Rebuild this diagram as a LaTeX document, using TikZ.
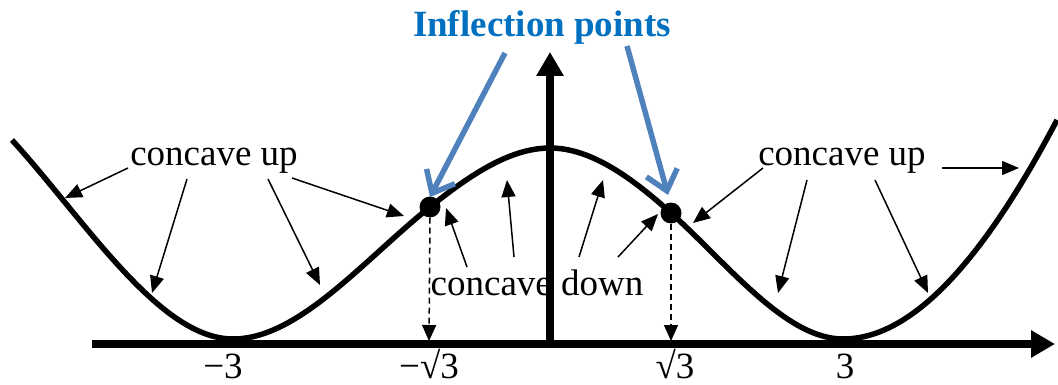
\documentclass[tikz,border=0pt]{standalone}
\usepackage{fontspec}
\setmainfont{Liberation Serif}
\usetikzlibrary{arrows.meta}
\definecolor{ipblue}{RGB}{0,112,192}
\definecolor{arrblue}{RGB}{79,129,189}
\tikzset{
  lbl/.style={font=\fontsize{37}{40}\selectfont, inner sep=0pt, anchor=base},
  thinarr/.style={line width=1.5pt, -{Triangle[length=17pt,width=14pt]}},
  dasharr/.style={line width=1.5pt, dashed, dash pattern=on 6pt off 4pt, -{Triangle[length=16pt,width=14pt]}},
  bluearr/.style={draw=arrblue, line width=5.5pt, -{Straight Barb[length=19pt,width=32pt]}},
  axis/.style={line width=7.5pt, -{Triangle[length=24pt,width=26pt]}},
  dot/.style={circle, fill=black, inner sep=0pt, minimum size=21pt},
}
\begin{document}
\begin{tikzpicture}[x=1pt,y=-1pt]
\useasboundingbox (0,0) rectangle (1058,385);
% axes
\coordinate (xs) at (92,344);
\coordinate (xe) at (1055,344);
\coordinate (ys) at (550,344);
\coordinate (ye) at (550,52);
\draw[axis] (xs) -- (xe);
\draw[axis] (ys) -- (ye);
% curve
\coordinate (k0) at (12,140);
\coordinate (k1) at (233,339);
\coordinate (k2) at (430,207);
\coordinate (k3) at (550,148);
\coordinate (k4) at (671,213);
\coordinate (k5) at (843,339);
\coordinate (k6) at (1057,120);
\draw[line width=5.5pt]
 (k0) .. controls (85.7,221) and (159.3,339) .. (k1)
      .. controls (298.7,339) and (364.3,259.5) .. (k2)
      .. controls (470,175) and (510,148) .. (k3)
      .. controls (590.3,148) and (630.7,176.7) .. (k4)
      .. controls (728.3,264.6) and (785.7,339) .. (k5)
      .. controls (914.3,339) and (985.7,255.5) .. (k6);
% inflection points
\node[dot] (p1) at (k2) {};
\node[dot] (p2) at (k4) {};
\coordinate (p1b) at (429,341);
\coordinate (p2b) at (671,341);
\draw[dasharr] (p1.south) -- (p1b);
\draw[dasharr] (p2.south) -- (p2b);
% labels
\node[lbl] (lm3) at (223,378) {−3};
\node[lbl] (lms) at (429,378) {−√3};
\node[lbl] (lps) at (675,378) {√3};
\node[lbl] (lp3) at (845,378) {3};
\node[lbl] (cu1) at (214,165) {concave up};
\node[lbl] (cu2) at (842,165) {concave up};
\node[lbl] (cd) at (537,295) {concave down};
\node[lbl, text=ipblue, font=\fontsize{37}{40}\selectfont\bfseries] (ip) at (542,37) {Inflection points};
% concave up arrows (left)
\coordinate (a1s) at (128,168); \coordinate (a1e) at (65,198);
\coordinate (a2s) at (187,179); \coordinate (a2e) at (152,293);
\coordinate (a3s) at (268,179); \coordinate (a3e) at (320,285);
\coordinate (a4s) at (292,178); \coordinate (a4e) at (404,216);
\draw[thinarr] (a1s) -- (a1e);
\draw[thinarr] (a2s) -- (a2e);
\draw[thinarr] (a3s) -- (a3e);
\draw[thinarr] (a4s) -- (a4e);
% concave up arrows (right)
\coordinate (b1s) at (763,168); \coordinate (b1e) at (693,223);
\coordinate (b2s) at (807,180); \coordinate (b2e) at (778,293);
\coordinate (b3s) at (875,180); \coordinate (b3e) at (928,293);
\coordinate (b4s) at (942,168); \coordinate (b4e) at (1019,168);
\draw[thinarr] (b1s) -- (b1e);
\draw[thinarr] (b2s) -- (b2e);
\draw[thinarr] (b3s) -- (b3e);
\draw[thinarr] (b4s) -- (b4e);
% concave down arrows
\coordinate (c1s) at (467,267); \coordinate (c1e) at (446,208);
\coordinate (c2s) at (514,257); \coordinate (c2e) at (507,180);
\coordinate (c3s) at (579,257); \coordinate (c3e) at (603,180);
\coordinate (c4s) at (618,257); \coordinate (c4e) at (658,214);
\draw[thinarr] (c1s) -- (c1e);
\draw[thinarr] (c2s) -- (c2e);
\draw[thinarr] (c3s) -- (c3e);
\draw[thinarr] (c4s) -- (c4e);
% blue arrows
\coordinate (d1s) at (505,53); \coordinate (d1e) at (430,197);
\coordinate (d2s) at (627,46); \coordinate (d2e) at (668,195);
\draw[bluearr] (d1s) -- (d1e);
\draw[bluearr] (d2s) -- (d2e);
\end{tikzpicture}
\end{document}
